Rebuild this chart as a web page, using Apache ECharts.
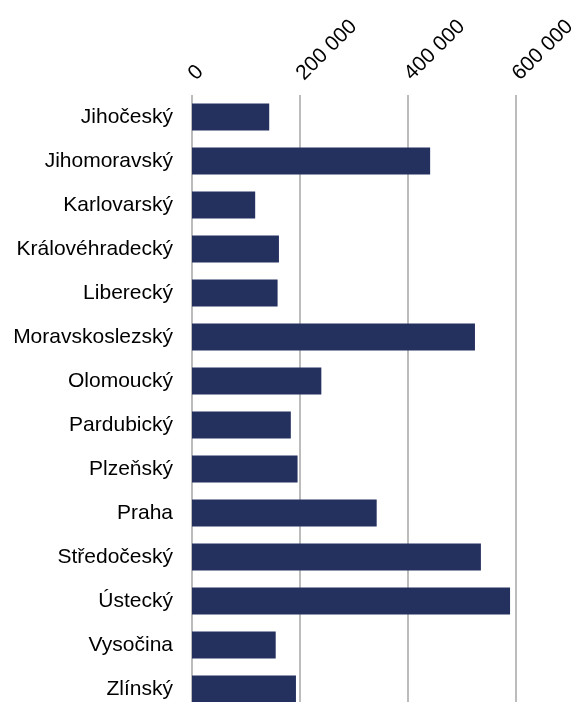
<!DOCTYPE html>
<html>
<head>
<meta charset="utf-8">
<script src="https://cdn.jsdelivr.net/npm/echarts@6/dist/echarts.min.js"></script>
<style>
  html, body { margin: 0; padding: 0; background: #fff; }
  #chart { width: 576px; height: 702px; }
</style>
</head>
<body>
<div id="chart"></div>
<script>
// kraje a hodnoty
var regions = ['Jihočeský', 'Jihomoravský', 'Karlovarský', 'Královéhradecký', 'Liberecký',
  'Moravskoslezský', 'Olomoucký', 'Pardubický', 'Plzeňský', 'Praha',
  'Středočeský', 'Ústecký', 'Vysočina', 'Zlínský'];
var values = [143000, 441000, 117000, 161000, 158500,
  524000, 239500, 183000, 195500, 342000,
  535000, 589000, 155000, 192500];
var xTicks = [0, 200000, 400000, 600000];

var myChart = echarts.init(document.getElementById('chart'));

var option = {
  animation: false,
  grid: { left: 192, right: 60, top: 95, bottom: -9, outerBoundsMode: 'none', containLabel: false },
  xAxis: {
    type: 'value',
    position: 'top',
    min: xTicks[0],
    max: xTicks[xTicks.length - 1],
    interval: 200000,
    axisLine: { show: false },
    axisTick: { show: false },
    splitLine: { lineStyle: { color: '#a6a6a6', width: 1.5 } },
    axisLabel: {
      rotate: -45,
      margin: 18,
      color: '#000',
      fontFamily: 'Liberation Sans, Arial, sans-serif',
      fontSize: 21,
      formatter: function (v) {
        return String(v).replace(/\B(?=(\d{3})+(?!\d))/g, ' ');
      }
    }
  },
  yAxis: {
    type: 'category',
    inverse: true,
    data: regions,
    axisLine: { show: false },
    axisTick: { show: false },
    axisLabel: {
      margin: 19,
      color: '#000',
      fontFamily: 'Liberation Sans, Arial, sans-serif',
      fontSize: 21
    }
  },
  series: [
    {
      type: 'bar',
      data: values,
      barWidth: 27,
      itemStyle: { color: '#24305e' }
    }
  ]
};
myChart.setOption(option);
</script>
</body>
</html>
